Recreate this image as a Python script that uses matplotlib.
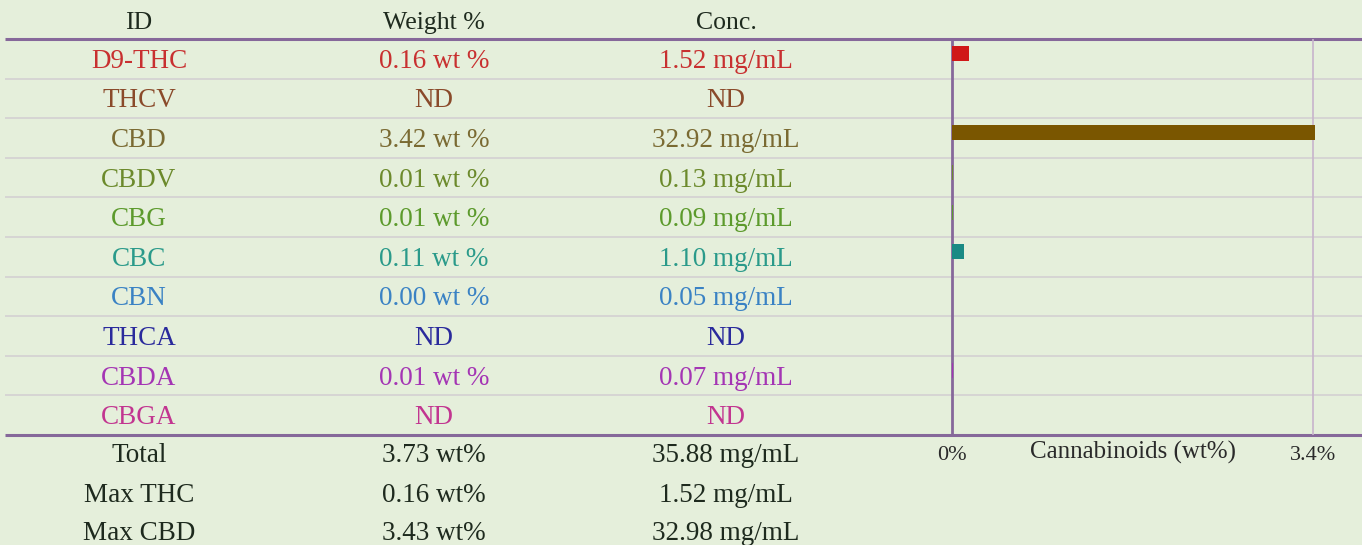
import numpy as np
import matplotlib
matplotlib.use('Agg')
import matplotlib.pyplot as plt

#################################################

ids      = ['D9-THC', 'THCV', 'CBD', 'CBDV', 'CBG', 'CBC', 'CBN', 'THCA', 'CBDA', 'CBGA']
weight   = ['0.16 wt %', 'ND', '3.42 wt %', '0.01 wt %', '0.01 wt %', '0.11 wt %',
            '0.00 wt %', 'ND', '0.01 wt %', 'ND']
conc     = ['1.52 mg/mL', 'ND', '32.92 mg/mL', '0.13 mg/mL', '0.09 mg/mL', '1.10 mg/mL',
            '0.05 mg/mL', 'ND', '0.07 mg/mL', 'ND']
wt_value = [0.16, 0.0, 3.42, 0.01, 0.01, 0.11, 0.00, 0.0, 0.01, 0.0]

sum_ids    = ['Total', 'Max THC', 'Max CBD']
sum_weight = ['3.73 wt%', '0.16 wt%', '3.43 wt%']
sum_conc   = ['35.88 mg/mL', '1.52 mg/mL', '32.98 mg/mL']

headers    = ['ID', 'Weight %', 'Conc.']
axis_ticks = [0, 3.4]
axis_tick_labels = ['0%', '3.4%']
axis_label = 'Cannabinoids (wt%)'

#################################################

text_colors = ['#c83030', '#8a4a2a', '#7a6a32', '#6c8a2c', '#5c9a2c',
               '#2a9a8a', '#3a82c4', '#2a2a9c', '#a435b4', '#c23590']
bar_colors  = ['#d01818', '#8a4a2a', '#7a5600', '#6c8a2c', '#5c9a2c',
               '#1a8a84', '#3a82c4', '#2a2a9c', '#a435b4', '#c23590']

W, H = 1362, 545
BG = '#e5efdb'
LINE = '#86689a'
FONT = 'Liberation Serif'
FS = 19.5
DARK = '#1e2a1e'

col_x = [139, 434, 726]
top_line, bot_line = 39, 435
row_h = (bot_line - top_line) / len(ids)
bar_left = 952
x_per_unit = (1313 - bar_left) / 3.4
base_off = 9   # baseline below the row centre

fig = plt.figure(figsize=(W / 100, H / 100), dpi=100, facecolor=BG)

# table layer in pixel coordinates
tab = fig.add_axes([0, 0, 1, 1])
tab.set_xlim(0, W)
tab.set_ylim(H, 0)
tab.axis('off')

for x, h in zip(col_x, headers):
    tab.text(x, 29, h, ha='center', va='baseline', fontsize=18.5, family=FONT, color=DARK)

for i in range(len(ids)):
    yc = top_line + row_h * (i + 0.5)
    for x, s in zip(col_x, [ids[i], weight[i], conc[i]]):
        tab.text(x, yc + base_off, s, ha='center', va='baseline', fontsize=FS,
                 family=FONT, color=text_colors[i])
    if i > 0:
        tab.hlines(top_line + row_h * i, 5, W, color='#d4d0d2', lw=1.2)

for j in range(len(sum_ids)):
    yc = bot_line + 18.5 + 39 * j
    for x, s in zip(col_x, [sum_ids[j], sum_weight[j], sum_conc[j]]):
        tab.text(x, yc + base_off, s, ha='center', va='baseline', fontsize=FS,
                 family=FONT, color=DARK)

tab.hlines([top_line, bot_line], 5, W, color=LINE, lw=2.2)

# bar chart
ax_w = (W - bar_left) / W
ax_b = (H - bot_line) / H
ax_h = (bot_line - top_line) / H
ax = fig.add_axes([bar_left / W, ax_b, ax_w, ax_h])
ax.patch.set_alpha(0)
yy = np.arange(len(ids))
ax.barh(yy, wt_value, height=0.38, color=bar_colors, zorder=3)
ax.set_xlim(0, (W - bar_left) / x_per_unit)
ax.set_ylim(len(ids) - 0.5 + 0.13, -0.5 + 0.13)
ax.axvline(3.4, color='#c8b4cc', lw=1.2, zorder=1)
for s in ['top', 'right', 'bottom']:
    ax.spines[s].set_visible(False)
ax.spines['left'].set_color(LINE)
ax.spines['left'].set_linewidth(2.0)
ax.set_yticks([])
ax.set_xticks(axis_ticks)
ax.set_xticklabels(axis_tick_labels, family=FONT, fontsize=16, color='#2a2a2a')
ax.tick_params(axis='x', length=0, pad=8)
ax.text(np.mean(axis_ticks), -0.045, axis_label, transform=ax.get_xaxis_transform(),
        ha='center', va='center', fontsize=18, family=FONT, color='#2a2a2a')

plt.savefig('out.png', dpi=100, facecolor=BG)
